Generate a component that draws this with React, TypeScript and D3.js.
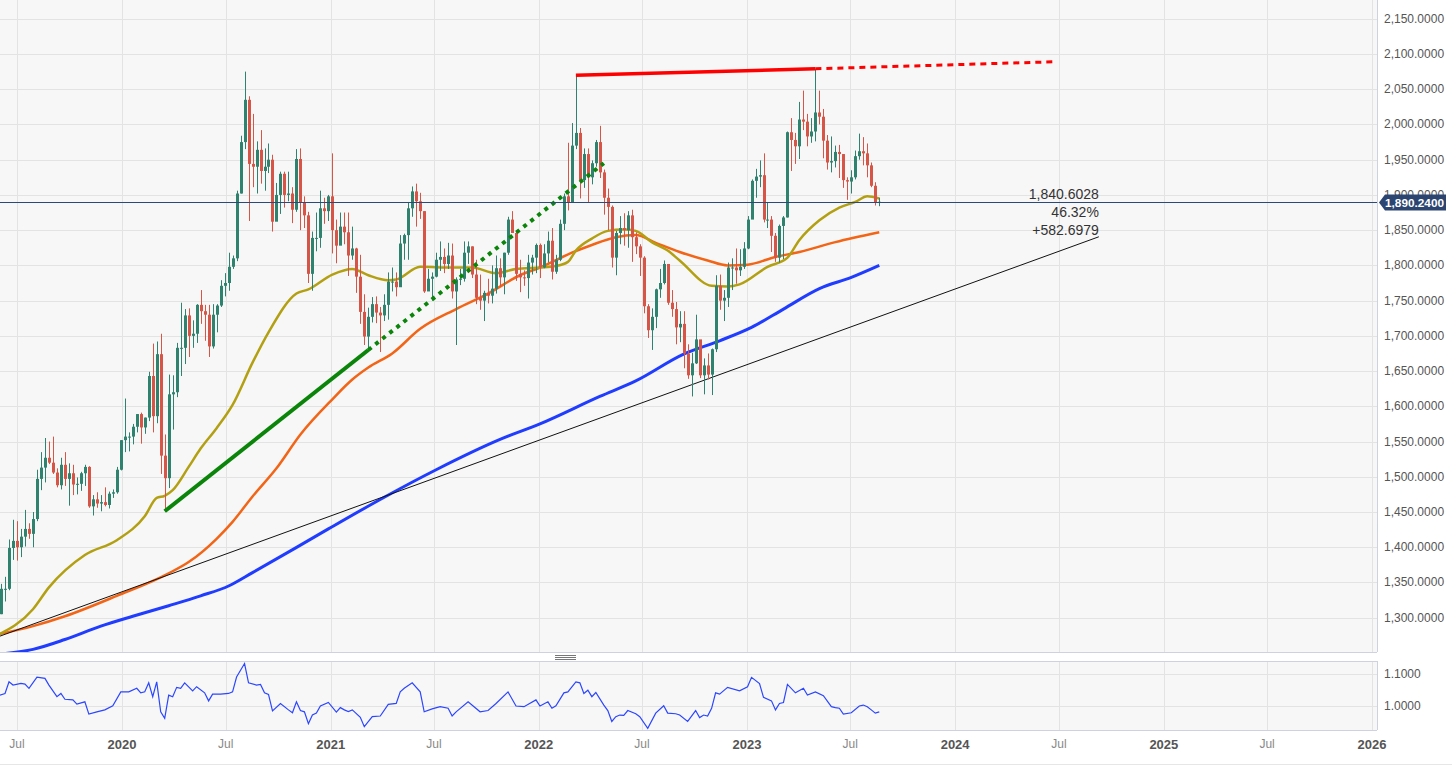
import React from 'react';
import * as d3 from 'd3';

const W = 1452;
const H = 768;
const PLOT_R = 1377;
const MAIN_B = 652;
const SUB_T = 661;
const SUB_B = 730;

const weekStart = Date.UTC(2019, 4, 27);
const firstOpen = 1284;

// weekly [high, low, close]; open = previous close
const weeks2019 = [
  [1306, 1280, 1305], [1348, 1305, 1341], [1358, 1323, 1341], [1411, 1339, 1399],
  [1439, 1382, 1409], [1437, 1381, 1400], [1426, 1386, 1415], [1453, 1401, 1426],
  [1434, 1412, 1419], [1450, 1400, 1440], [1510, 1437, 1497], [1535, 1481, 1513],
  [1555, 1492, 1527], [1550, 1518, 1520], [1557, 1504, 1506], [1512, 1485, 1488],
  [1527, 1482, 1517], [1535, 1487, 1497], [1519, 1459, 1505], [1517, 1474, 1489],
  [1499, 1475, 1490], [1507, 1480, 1505], [1517, 1487, 1514], [1515, 1456, 1458],
  [1474, 1445, 1468], [1478, 1456, 1462], [1474, 1451, 1464], [1485, 1458, 1460],
  [1479, 1455, 1476], [1482, 1470, 1478], [1514, 1476, 1510], [1552, 1509, 1552]
];
const weeks2020 = [
  [1611, 1535, 1557], [1563, 1536, 1557], [1575, 1546, 1571], [1589, 1563, 1589],
  [1591, 1547, 1570], [1584, 1561, 1584], [1649, 1579, 1643], [1689, 1563, 1586],
  [1692, 1576, 1674], [1703, 1504, 1530], [1560, 1451, 1498], [1645, 1484, 1617],
  [1644, 1567, 1620], [1690, 1613, 1683], [1747, 1643, 1683], [1738, 1660, 1729],
  [1739, 1670, 1700], [1722, 1683, 1703], [1745, 1690, 1744], [1765, 1717, 1735],
  [1744, 1693, 1730], [1744, 1670, 1685], [1745, 1682, 1730], [1745, 1705, 1743],
  [1779, 1741, 1771], [1789, 1756, 1775], [1818, 1764, 1798], [1814, 1795, 1810],
  [1906, 1806, 1902], [1984, 1902, 1975], [2075, 1965, 2035], [2040, 1863, 1944],
  [2015, 1911, 1940], [1976, 1902, 1964], [1992, 1916, 1934], [1966, 1906, 1940],
  [1973, 1931, 1950], [1957, 1848, 1862], [1917, 1872, 1900], [1933, 1873, 1930],
  [1933, 1882, 1900], [1933, 1891, 1902], [1911, 1860, 1879], [1965, 1876, 1951],
  [1966, 1850, 1889], [1898, 1853, 1871], [1876, 1775, 1788], [1848, 1764, 1839],
  [1875, 1820, 1839], [1906, 1825, 1881], [1896, 1859, 1877], [1900, 1863, 1898]
];
const weeks2021 = [
  [1959, 1817, 1850], [1865, 1803, 1828], [1875, 1833, 1855], [1875, 1830, 1847],
  [1875, 1785, 1814], [1855, 1808, 1824], [1825, 1761, 1784], [1815, 1717, 1734],
  [1759, 1687, 1699], [1740, 1677, 1727], [1755, 1719, 1745], [1756, 1718, 1733],
  [1741, 1677, 1729], [1759, 1721, 1744], [1790, 1723, 1777], [1797, 1763, 1777],
  [1790, 1756, 1769], [1843, 1770, 1831], [1845, 1808, 1843], [1890, 1808, 1881],
  [1912, 1869, 1905], [1916, 1855, 1891], [1903, 1866, 1877], [1877, 1761, 1763],
  [1795, 1770, 1781], [1790, 1750, 1784], [1818, 1783, 1808], [1834, 1792, 1812],
  [1824, 1789, 1802], [1832, 1795, 1814], [1831, 1753, 1763], [1783, 1687, 1780],
  [1795, 1772, 1781], [1834, 1777, 1818], [1834, 1802, 1827], [1827, 1782, 1787],
  [1808, 1745, 1754], [1787, 1737, 1750], [1764, 1721, 1761], [1781, 1746, 1757],
  [1800, 1746, 1767], [1814, 1760, 1796], [1810, 1770, 1783], [1818, 1759, 1818],
  [1869, 1815, 1865], [1877, 1846, 1846], [1849, 1778, 1788], [1808, 1762, 1783],
  [1793, 1771, 1782], [1815, 1753, 1804], [1815, 1787, 1811], [1831, 1789, 1829]
];
const weeks2022 = [
  [1831, 1782, 1797], [1830, 1796, 1817], [1848, 1804, 1835], [1853, 1780, 1791],
  [1815, 1788, 1808], [1865, 1806, 1859], [1902, 1850, 1898], [1974, 1878, 1889],
  [2002, 1889, 1970], [2070, 1965, 1988], [1995, 1895, 1921], [1966, 1910, 1958],
  [1966, 1890, 1925], [1949, 1915, 1945], [1978, 1940, 1975], [1998, 1924, 1932],
  [1936, 1872, 1896], [1909, 1850, 1883], [1885, 1797, 1811], [1849, 1786, 1846],
  [1870, 1830, 1853], [1874, 1828, 1850], [1877, 1825, 1871], [1879, 1805, 1840],
  [1847, 1816, 1827], [1830, 1785, 1811], [1813, 1732, 1742], [1745, 1697, 1708],
  [1739, 1680, 1727], [1767, 1711, 1766], [1795, 1754, 1775], [1807, 1773, 1802],
  [1802, 1744, 1747], [1765, 1727, 1738], [1748, 1688, 1712], [1735, 1691, 1717],
  [1735, 1654, 1675], [1688, 1639, 1644], [1676, 1614, 1661], [1730, 1660, 1695],
  [1688, 1640, 1644], [1668, 1617, 1658], [1675, 1638, 1645], [1682, 1616, 1681],
  [1786, 1677, 1771], [1787, 1737, 1750], [1765, 1721, 1754], [1804, 1741, 1797],
  [1810, 1765, 1797], [1824, 1774, 1793], [1823, 1785, 1798], [1833, 1795, 1824]
];
const weeks2023 = [
  [1870, 1823, 1865], [1922, 1866, 1920], [1937, 1896, 1926], [1949, 1911, 1928],
  [1959, 1861, 1865], [1890, 1853, 1865], [1870, 1819, 1842], [1846, 1805, 1811],
  [1858, 1804, 1856], [1870, 1809, 1868], [1990, 1868, 1989], [2009, 1934, 1978],
  [1988, 1944, 1969], [2032, 1951, 2007], [2048, 1992, 2004], [2015, 1969, 1983],
  [2009, 1974, 1990], [2079, 1976, 2017], [2048, 2000, 2011], [2022, 1952, 1977],
  [1985, 1936, 1946], [1983, 1932, 1948], [1970, 1939, 1961], [1971, 1924, 1958],
  [1958, 1910, 1921], [1925, 1893, 1919], [1935, 1902, 1925], [1963, 1922, 1955],
  [1987, 1950, 1962], [1982, 1942, 1959], [1973, 1925, 1942], [1946, 1911, 1913],
  [1918, 1885, 1889], [1896, 1884, 1890.24]
];

// moving averages: [week, value]
const sma50 = [
  [0, 1275], [9, 1312], [13, 1343], [22, 1389], [30, 1410], [37, 1444], [40, 1470],
  [42, 1473], [44, 1481], [48, 1514], [51, 1540], [55, 1569], [59, 1602], [64, 1662],
  [68, 1705], [75, 1760], [78, 1766], [84, 1787], [89, 1795], [93, 1786], [98, 1779],
  [100, 1780], [106, 1798], [114, 1797], [119, 1797], [125, 1789], [130, 1795],
  [136, 1797], [140, 1799], [143, 1805], [145, 1821], [149, 1838], [153, 1849],
  [157, 1851], [160, 1849], [164, 1833], [168, 1821], [171, 1807], [179, 1771],
  [183, 1770], [186, 1773], [193, 1798], [198, 1811], [201, 1836], [206, 1864],
  [211, 1882], [215, 1890], [218, 1898], [221, 1895]
];
const sma100 = [
  [0, 1276], [9, 1288], [17, 1302], [30, 1331], [43, 1363], [48, 1379], [55, 1412],
  [59, 1436], [64, 1472], [70, 1512], [76, 1560], [84, 1610], [89, 1638], [93, 1655],
  [99, 1675], [106, 1710], [115, 1738], [123, 1760], [131, 1786], [136, 1797],
  [144, 1818], [149, 1829], [155, 1840], [160, 1843], [165, 1832], [171, 1819],
  [178, 1807], [183, 1800], [188, 1801], [195, 1812], [201, 1819], [210, 1833], [221, 1847]
];
const sma200 = [
  [0, 1248], [9, 1255], [17, 1269], [26, 1288], [34, 1302], [43, 1317], [51, 1331],
  [58, 1345], [64, 1364], [76, 1403], [83, 1426], [97, 1471], [110, 1510], [126, 1553],
  [136, 1575], [151, 1614], [160, 1636], [172, 1674], [181, 1693], [189, 1712],
  [197, 1738], [206, 1767], [214, 1783], [221, 1800]
];

// lower panel indicator: [week, value]
const ratio = [
  [0, 1.030], [2, 1.038], [3, 1.074], [4, 1.064], [6, 1.069], [7, 1.067], [8, 1.054],
  [10, 1.089], [12, 1.085], [13, 1.064], [15, 1.028], [16, 1.038], [17, 1.020], [19, 1.018],
  [20, 1.005], [22, 1.012], [23, 0.974], [25, 0.981], [27, 0.987], [29, 1.000], [31, 1.043],
  [33, 1.043], [35, 1.054], [36, 1.040], [37, 1.043], [38, 1.071], [39, 1.028], [40, 1.074],
  [41, 0.981], [42, 0.961], [43, 1.033], [44, 1.028], [45, 1.057], [46, 1.054], [47, 1.071],
  [49, 1.046], [50, 1.059], [52, 1.040], [53, 1.015], [54, 1.036], [56, 1.036], [58, 1.038],
  [59, 1.043], [60, 1.089], [62, 1.131], [63, 1.071], [65, 1.064], [66, 1.066], [67, 1.040],
  [68, 1.035], [69, 0.984], [71, 1.007], [73, 0.987], [74, 0.978], [75, 1.012], [76, 0.985],
  [77, 0.981], [78, 0.944], [79, 0.971], [80, 0.977], [81, 0.999], [83, 1.010], [85, 0.980],
  [86, 0.994], [87, 0.987], [88, 0.982], [89, 0.987], [91, 0.964], [92, 0.935], [94, 0.966],
  [96, 0.968], [98, 1.004], [100, 1.007], [101, 1.043], [102, 1.054], [104, 1.071],
  [106, 1.043], [107, 0.981], [109, 0.990], [111, 0.997], [113, 0.992], [114, 0.968],
  [115, 0.981], [118, 1.012], [121, 0.981], [123, 0.985], [125, 1.007], [128, 1.043],
  [130, 0.999], [132, 0.997], [135, 1.018], [136, 0.999], [138, 1.012], [139, 0.992],
  [140, 1.000], [142, 1.040], [143, 1.043], [145, 1.074], [146, 1.071], [147, 1.038],
  [148, 1.048], [149, 1.028], [150, 1.041], [152, 1.002], [153, 0.985], [154, 0.951],
  [155, 0.966], [156, 0.971], [157, 0.970], [158, 0.985], [160, 0.975], [161, 0.966],
  [163, 0.930], [165, 0.977], [167, 1.000], [168, 0.977], [170, 0.975], [171, 0.971],
  [173, 0.951], [175, 0.985], [176, 0.963], [177, 0.971], [178, 0.968], [179, 0.992],
  [180, 1.040], [181, 1.036], [183, 1.057], [186, 1.046], [188, 1.059], [189, 1.088],
  [191, 1.069], [192, 1.026], [194, 1.015], [195, 0.987], [196, 1.007], [197, 1.010],
  [198, 1.066], [200, 1.040], [202, 1.054], [203, 1.033], [205, 1.043], [207, 1.031],
  [209, 0.997], [210, 0.994], [211, 0.992], [212, 0.974], [214, 0.978], [216, 0.999],
  [217, 1.002], [218, 0.997], [219, 0.987], [220, 0.977], [221, 0.981]
];

// drawn trend lines: [week, price]
const baseTrend = [[-7, 1257.9049], [276, 1840.6028]];
const greenTrend = [[42, 1451], [93, 1680], [152, 1945]];
const redTrend = [[145, 2070], [205, 2079], [265, 2089]];

const lastPrice = 1890.24;
const priceTicks = d3.range(1300, 2151, 50);
const ratioTicks = [1.0, 1.1];

const weekDate = (w: number) => new Date(weekStart + w * 7 * 864e5);

const x = d3
  .scaleUtc()
  .domain([new Date(Date.UTC(2019, 6, 1)), new Date(Date.UTC(2026, 0, 1))])
  .range([17, 1372]);
const y = d3.scaleLinear().domain([1300, 2100]).range([617.7, 54]);
const ySub = d3.scaleLinear().domain([1.0, 1.1]).range([705.7, 673.5]);

const fmtPrice = d3.format(',.4f');

const buildCandles = () => {
  const rows = [...weeks2019, ...weeks2020, ...weeks2021, ...weeks2022, ...weeks2023];
  let prev = firstOpen;
  return rows.map((r, i) => {
    const c = { w: i, o: prev, h: r[0], l: r[1], c: r[2] };
    prev = r[2];
    return c;
  });
};

const GREEN = '#2e826e';
const RED = '#d75546';

const App = () => {
  const candles = buildCandles();
  const xt = x.ticks(d3.utcMonth.every(6) as any);

  const line = d3
    .line<number[]>()
    .x(d => x(weekDate(d[0])))
    .y(d => y(d[1]))
    .curve(d3.curveMonotoneX);
  const straight = d3
    .line<number[]>()
    .x(d => x(weekDate(d[0])))
    .y(d => y(d[1]));
  const subLine = d3
    .line<number[]>()
    .x(d => x(weekDate(d[0])))
    .y(d => ySub(d[1]));

  const tEnd = baseTrend[1];
  const tStart = baseTrend[0];
  const endX = x(weekDate(tEnd[0]));
  const endY = y(tEnd[1]);
  const diff = tEnd[1] - tStart[1];
  const pct = (diff / tStart[1]) * 100;

  const py = Math.round(y(lastPrice)) + 0.5;

  return (
    <svg
      width={W}
      height={H}
      style={{ position: 'absolute', left: 0, top: 0, background: '#fff' }}
      fontFamily="'Liberation Sans', Arial, sans-serif"
    >
      <defs>
        <clipPath id="mainClip">
          <rect x={0} y={0} width={PLOT_R} height={MAIN_B} />
        </clipPath>
        <clipPath id="subClip">
          <rect x={0} y={SUB_T} width={PLOT_R} height={SUB_B - SUB_T} />
        </clipPath>
      </defs>

      <rect x={0} y={0} width={PLOT_R} height={MAIN_B} fill="#f7f7f7" />
      <rect x={0} y={SUB_T} width={PLOT_R} height={SUB_B - SUB_T} fill="#f7f7f7" />

      {/* grid */}
      {priceTicks.map(t => (
        <line key={'h' + t} x1={0} x2={PLOT_R} y1={Math.round(y(t)) + 0.5} y2={Math.round(y(t)) + 0.5} stroke="#e3e3e3" />
      ))}
      {ratioTicks.map(t => (
        <line key={'hs' + t} x1={0} x2={PLOT_R} y1={Math.round(ySub(t)) + 0.5} y2={Math.round(ySub(t)) + 0.5} stroke="#e3e3e3" />
      ))}
      {xt.map(t => {
        const xx = Math.round(x(t)) + 0.5;
        return (
          <g key={'v' + +t}>
            <line x1={xx} x2={xx} y1={0} y2={MAIN_B} stroke="#e3e3e3" />
            <line x1={xx} x2={xx} y1={SUB_T} y2={SUB_B} stroke="#e3e3e3" />
          </g>
        );
      })}

      <g clipPath="url(#mainClip)">
        {/* moving averages */}
        <path d={line(sma200) || ''} fill="none" stroke="#1f3cff" strokeWidth={3} />
        <path d={line(sma100) || ''} fill="none" stroke="#f26516" strokeWidth={2.5} />
        <path d={line(sma50) || ''} fill="none" stroke="#b3a012" strokeWidth={2.5} />

        {/* base trend */}
        <path d={straight(baseTrend) || ''} fill="none" stroke="#111" strokeWidth={1} />

        {/* candles */}
        {candles.map(d => {
          const cx = Math.round(x(weekDate(d.w)));
          const up = d.c >= d.o;
          const col = up ? GREEN : RED;
          const top = y(Math.max(d.o, d.c));
          const bot = y(Math.min(d.o, d.c));
          return (
            <g key={d.w}>
              <line x1={cx + 0.5} x2={cx + 0.5} y1={y(d.h)} y2={y(d.l)} stroke={col} strokeWidth={1} />
              <rect x={cx - 1} y={top} width={3} height={Math.max(1, bot - top)} fill={col} />
            </g>
          );
        })}

        {/* green trend */}
        <path d={straight(greenTrend.slice(0, 2)) || ''} fill="none" stroke="#0a850a" strokeWidth={4} />
        <path d={straight(greenTrend.slice(1)) || ''} fill="none" stroke="#0a850a" strokeWidth={4} strokeDasharray="4 5" />

        {/* red trend */}
        <path d={straight(redTrend.slice(0, 2)) || ''} fill="none" stroke="#ff0000" strokeWidth={3.5} />
        <path d={straight(redTrend.slice(1)) || ''} fill="none" stroke="#ff0000" strokeWidth={3} strokeDasharray="6 5" />

        {/* last price line */}
        <line x1={0} x2={PLOT_R} y1={py} y2={py} stroke="#2b4a7c" strokeWidth={1} />

        <g fontSize={14} fill="#333" textAnchor="end">
          <text x={endX} y={endY - 38}>{fmtPrice(tEnd[1])}</text>
          <text x={endX} y={endY - 20}>{d3.format('.2f')(pct) + '%'}</text>
          <text x={endX} y={endY - 2}>{'+' + fmtPrice(diff).replace(/,/g, '')}</text>
        </g>
      </g>

      <g clipPath="url(#subClip)">
        <path d={subLine(ratio) || ''} fill="none" stroke="#2b46ff" strokeWidth={1.2} />
      </g>

      {/* borders */}
      <line x1={0} x2={PLOT_R} y1={MAIN_B + 0.5} y2={MAIN_B + 0.5} stroke="#cdd2e2" />
      <line x1={0} x2={PLOT_R} y1={SUB_T + 0.5} y2={SUB_T + 0.5} stroke="#cdd2e2" />
      <line x1={0} x2={PLOT_R} y1={SUB_B + 0.5} y2={SUB_B + 0.5} stroke="#cdd2e2" />
      <line x1={PLOT_R + 0.5} x2={PLOT_R + 0.5} y1={0} y2={MAIN_B} stroke="#cdd2e2" />
      <line x1={PLOT_R + 0.5} x2={PLOT_R + 0.5} y1={SUB_T} y2={SUB_B} stroke="#cdd2e2" />
      <line x1={0} x2={W} y1={764.5} y2={764.5} stroke="#e6e6e6" />

      {/* pane handle */}
      {[655, 657, 659].map(v => (
        <line key={v} x1={555} x2={576} y1={v + 0.5} y2={v + 0.5} stroke="#777" />
      ))}

      {/* right axis */}
      <g fontSize={12} fill="#555">
        {priceTicks.map(t => (
          <text key={'yl' + t} x={1384} y={y(t)} dominantBaseline="central">
            {fmtPrice(t)}
          </text>
        ))}
        {ratioTicks.map(t => (
          <text key={'rl' + t} x={1384} y={ySub(t)} dominantBaseline="central">
            {d3.format('.4f')(t)}
          </text>
        ))}
      </g>

      {/* last price tag */}
      <path d={`M1379,${py} L1385,${py - 8} L1446,${py - 8} L1446,${py + 8} L1385,${py + 8} Z`} fill="#2b4470" />
      <text x={1385} y={py} dominantBaseline="central" fontSize={11} fontWeight="bold" fill="#fff" textLength={59} lengthAdjust="spacingAndGlyphs">
        {fmtPrice(lastPrice)}
      </text>

      {/* time axis */}
      {xt.map(t => {
        const isYear = t.getUTCMonth() === 0;
        return (
          <text
            key={'xl' + +t}
            x={x(t)}
            y={744}
            textAnchor="middle"
            dominantBaseline="central"
            fontSize={isYear ? 13 : 12}
            fontWeight={isYear ? 'bold' : 'normal'}
            fill={isYear ? '#555' : '#888'}
          >
            {isYear ? d3.utcFormat('%Y')(t) : d3.utcFormat('%b')(t)}
          </text>
        );
      })}
    </svg>
  );
};

export default App;
